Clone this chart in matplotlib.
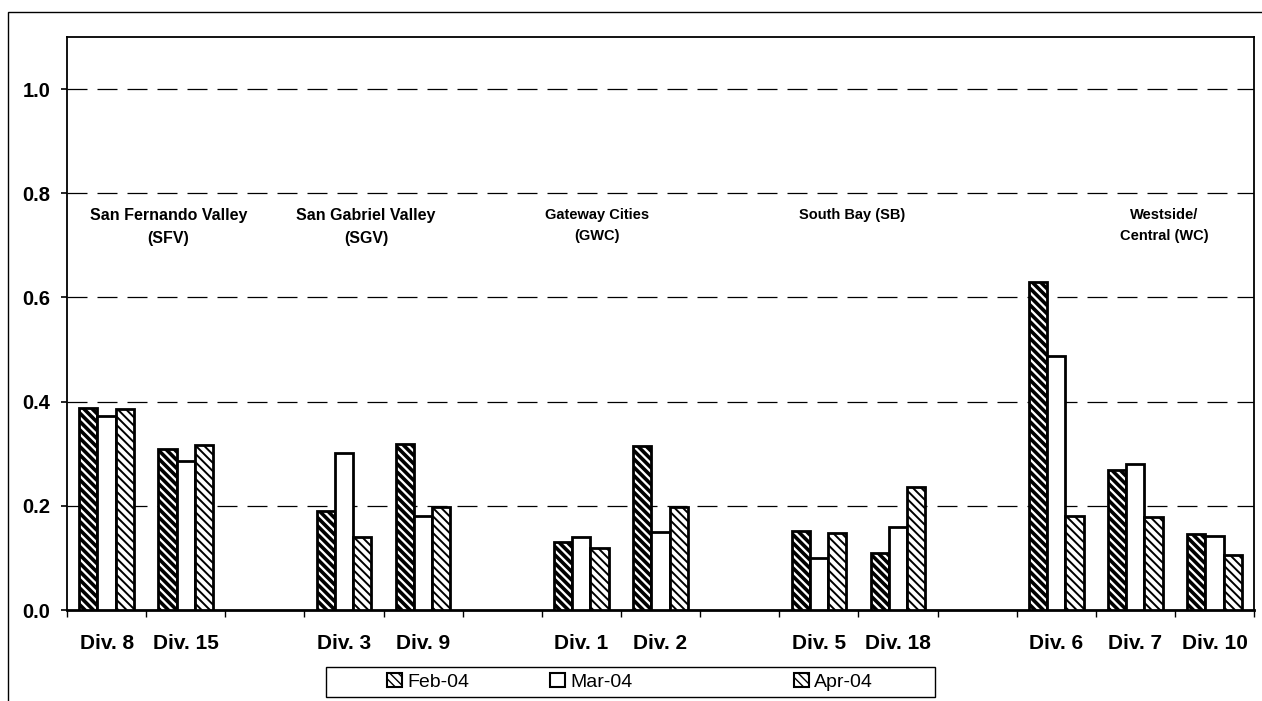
import numpy as np
import matplotlib
matplotlib.use("Agg")
import matplotlib.pyplot as plt
from matplotlib.patches import Rectangle

plt.rcParams['font.family'] = ['Liberation Sans', 'DejaVu Sans']

# categories ('' = gap between regions)
divisions = ['Div. 8', 'Div. 15', '', 'Div. 3', 'Div. 9', '', 'Div. 1', 'Div. 2', '',
             'Div. 5', 'Div. 18', '', 'Div. 6', 'Div. 7', 'Div. 10']
feb = [0.388, 0.310, np.nan, 0.190, 0.318, np.nan, 0.130, 0.315, np.nan,
       0.152, 0.110, np.nan, 0.629, 0.269, 0.146]
mar = [0.373, 0.287, np.nan, 0.301, 0.180, np.nan, 0.140, 0.150, np.nan,
       0.100, 0.160, np.nan, 0.487, 0.281, 0.143]
apr = [0.385, 0.317, np.nan, 0.140, 0.197, np.nan, 0.120, 0.197, np.nan,
       0.148, 0.237, np.nan, 0.181, 0.179, 0.106]
series_names = ['Feb-04', 'Mar-04', 'Apr-04']

regions = ['San Fernando Valley\n(SFV)', 'San Gabriel Valley\n(SGV)', 'Gateway Cities\n(GWC)',
           'South Bay (SB)', 'Westside/\nCentral (WC)']
region_x = [0.78, 3.28, 6.2, 9.42, 13.36]
region_size = [11.5, 11.5, 10.5, 10.5, 10.5]

fig = plt.figure(figsize=(12.62, 7.01), dpi=100)
ax = fig.add_axes([0.0531, 0.1298, 0.9406, 0.8174])

x = np.arange(len(divisions))
w = 0.23

def bars(vals, off, hatch, hlw, label):
    with plt.rc_context({'hatch.linewidth': hlw}):
        bc = ax.bar(x + off, vals, w, color='white', edgecolor='black',
                    linewidth=2.0, hatch=hatch, label=label, zorder=3)
    for p in bc:
        if hasattr(p, 'set_hatch_linewidth'):
            p.set_hatch_linewidth(hlw)
    return bc

b1 = bars(feb, -w, '\\\\\\\\', 2.6, series_names[0])
b2 = bars(mar, 0, None, 1.0, series_names[1])
b3 = bars(apr, w, '\\\\\\\\', 1.4, series_names[2])

ax.set_xlim(-0.5, len(divisions) - 0.5)
ax.set_ylim(0, 1.1)
ax.set_yticks(np.arange(0, 1.01, 0.2))
ax.set_yticklabels(['%.1f' % v for v in np.arange(0, 1.01, 0.2)],
                   fontsize=14.5, fontweight='bold')
ax.tick_params(axis='y', length=4, pad=8, width=1.2)

ax.set_xticks(np.arange(-0.5, len(divisions), 1.0))
ax.set_xticklabels([])
ax.tick_params(axis='x', which='major', length=5, width=1.0, direction='out')
ax.set_xticks(x, minor=True)
ax.set_xticklabels(divisions, minor=True, fontsize=15, fontweight='bold')
ax.tick_params(axis='x', which='minor', length=0, pad=17)

for yv in np.arange(0.2, 1.01, 0.2):
    ax.axhline(yv, color='black', linewidth=0.9, linestyle=(0, (16, 8)), zorder=1)

for s in ax.spines.values():
    s.set_linewidth(1.3)
ax.spines['bottom'].set_linewidth(2.0)

for name, rx, fs in zip(regions, region_x, region_size):
    ax.text(rx, 0.772, name, ha='center', va='top', fontsize=fs,
            fontweight='bold', linespacing=1.65)

# legend: one entry per position, as in the original layout
leg_x = [387, 550, 794]
for h, lab, lx in zip([b1, b2, b3], series_names, leg_x):
    lg = fig.legend(handles=[h], labels=[lab], loc='center left',
                    bbox_to_anchor=(lx / 1262, 19 / 701), fontsize=14,
                    frameon=False, handlelength=0.75, handleheight=0.75,
                    handletextpad=0.3, borderaxespad=0, borderpad=0)
    for p in lg.legend_handles:
        p.set_linewidth(1.5)

# legend box
fig.patches.append(Rectangle((326 / 1262, 4 / 701), 609 / 1262, 30 / 701,
                             transform=fig.transFigure, fill=False,
                             edgecolor='black', linewidth=1.0))

# outer frame of the page
fig.patches.append(Rectangle((8 / 1262, -0.1), 1.2, 1 - 12 / 701 + 0.1,
                             transform=fig.transFigure, fill=False,
                             edgecolor='black', linewidth=1.0))

fig.savefig('out.png', dpi=100)
